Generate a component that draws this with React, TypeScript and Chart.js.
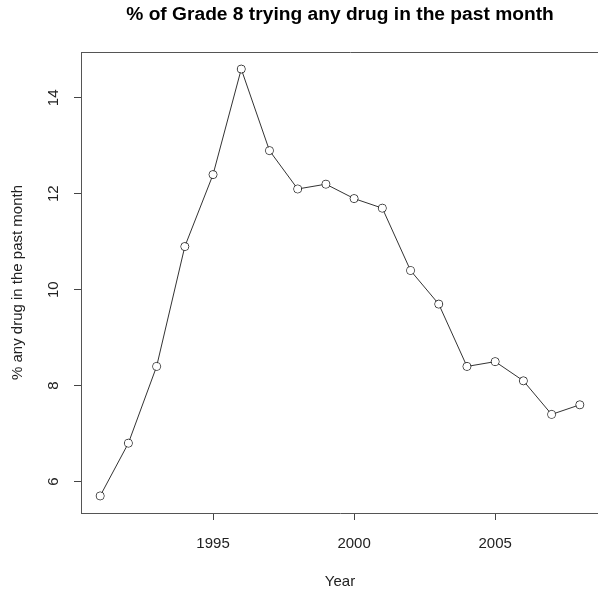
import React, { useEffect, useRef } from "react";
import { Chart, registerables } from "chart.js";

Chart.register(...registerables);

const years = [1991, 1992, 1993, 1994, 1995, 1996, 1997, 1998, 1999, 2000, 2001, 2002, 2003, 2004, 2005, 2006, 2007, 2008];
const values = [5.7, 6.8, 8.4, 10.9, 12.4, 14.6, 12.9, 12.1, 12.2, 11.9, 11.7, 10.4, 9.7, 8.4, 8.5, 8.1, 7.4, 7.6];
const xTicks = [1995, 2000, 2005];
const yTicks = [6, 8, 10, 12, 14];

const titleText = "% of Grade 8 trying any drug in the past month";
const xTitle = "Year";
const yTitle = "% any drug in the past month";

const FONT = "'Liberation Sans', Arial, Helvetica, sans-serif";

const xMin = Math.min(...years);
const xMax = Math.max(...years);
const yMin = Math.min(...values);
const yMax = Math.max(...values);
const xPad = (xMax - xMin) * 0.04;
const yPad = (yMax - yMin) * 0.04;

const boxPlugin = {
  id: "rbox",
  beforeDatasetDraw(chart: any, args: any) {
    const { ctx, chartArea } = chart;
    const meta = args.meta;
    ctx.save();
    ctx.beginPath();
    ctx.rect(chartArea.left - 10, chartArea.top - 10, chartArea.right - chartArea.left + 20, chartArea.bottom - chartArea.top + 20);
    meta.data.forEach((pt: any) => {
      ctx.moveTo(pt.x + 3.4, pt.y);
      ctx.arc(pt.x, pt.y, 3.4, 0, Math.PI * 2);
    });
    ctx.clip("evenodd");
    ctx.beginPath();
  },
  afterDatasetDraw(chart: any) {
    chart.ctx.restore();
  },
  afterDatasetsDraw(chart: any) {
    const { ctx, chartArea } = chart;
    const t = Math.round(chartArea.top) + 0.5;
    ctx.save();
    ctx.strokeStyle = "#555";
    ctx.lineWidth = 1;
    ctx.beginPath();
    ctx.moveTo(Math.round(chartArea.left), t);
    ctx.lineTo(chart.width, t);
    ctx.stroke();
    ctx.restore();
  },
  afterDraw(chart: any) {
    const { ctx, chartArea } = chart;
    ctx.save();
    ctx.fillStyle = "#000";
    ctx.font = `bold 19.2px ${FONT}`;
    ctx.textAlign = "center";
    ctx.textBaseline = "alphabetic";
    ctx.fillText(titleText, (chartArea.left + chartArea.right) / 2, 20);
    ctx.restore();
  },
};

export default function App() {
  const ref = useRef<HTMLCanvasElement | null>(null);

  useEffect(() => {
    if (!ref.current) return;
    const chart = new Chart(ref.current, {
      type: "line",
      data: {
        datasets: [
          {
            data: years.map((y, i) => ({ x: y, y: values[i] })),
            borderColor: "#333",
            borderWidth: 1,
            pointRadius: 4,
            pointBorderColor: "#333",
            pointBackgroundColor: "rgba(0,0,0,0)",
            pointBorderWidth: 1,
            tension: 0,
            fill: false,
          },
        ],
      },
      options: {
        responsive: false,
        animation: false,
        layout: { padding: { left: 0, top: 52, right: 21, bottom: 0 } },
        plugins: {
          legend: { display: false },
          tooltip: { enabled: false },
          title: { display: false },
        },
        scales: {
          x: {
            type: "linear",
            min: xMin - xPad,
            max: xMax + xPad,
            afterBuildTicks: (s: any) => {
              s.ticks = xTicks.map((v) => ({ value: v }));
            },
            afterFit: (s: any) => {
              s.height = 83;
            },
            grid: { display: true, drawOnChartArea: false, drawTicks: true, tickLength: 7, color: "#444" },
            border: { display: true, color: "#555" },
            ticks: {
              font: { family: FONT, size: 15 },
              color: "#222",
              padding: 15,
              maxRotation: 0,
              minRotation: 0,
              callback: (v: any) => String(v),
            },
            title: {
              display: true,
              text: xTitle,
              color: "#222",
              font: { family: FONT, size: 15 },
              padding: { top: 0, bottom: 5 },
            },
          },
          y: {
            type: "linear",
            min: yMin - yPad,
            max: yMax + yPad,
            afterBuildTicks: (s: any) => {
              s.ticks = yTicks.map((v) => ({ value: v }));
            },
            afterFit: (s: any) => {
              s.width = 81;
            },
            grid: { display: true, drawOnChartArea: false, drawTicks: true, tickLength: 7, color: "#444" },
            border: { display: true, color: "#555" },
            ticks: {
              font: { family: FONT, size: 15 },
              color: "#222",
              padding: 12,
              minRotation: 90,
              maxRotation: 90,
              crossAlign: "center",
              callback: (v: any) => String(v),
            },
            title: {
              display: true,
              text: yTitle,
              color: "#222",
              font: { family: FONT, size: 15 },
              padding: { top: 9, bottom: 0 },
            },
          },
        },
      } as any,
      plugins: [boxPlugin],
    });
    return () => chart.destroy();
  }, []);

  return (
    <div
      style={{
        position: "absolute",
        left: 0,
        top: 0,
        width: 598,
        height: 596,
        overflow: "hidden",
        background: "#fff",
      }}
    >
      <canvas ref={ref} width={620} height={596} style={{ width: 620, height: 596, display: "block" }} />
    </div>
  );
}
